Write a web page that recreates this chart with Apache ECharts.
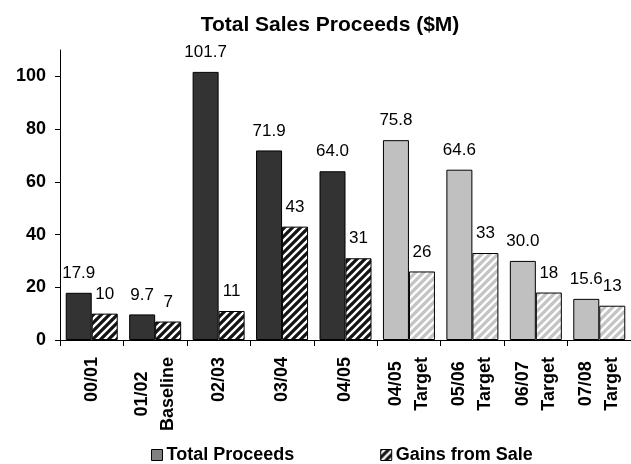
<!DOCTYPE html>
<html><head><meta charset="utf-8">
<script src="https://cdn.jsdelivr.net/npm/echarts@6/dist/echarts.min.js"></script>
<style>html,body{margin:0;padding:0;background:#fff}#c{width:631px;height:464px}</style>
</head><body><div id="c"></div>
<script>
const categories = ['00/01', '01/02\nBaseline', '02/03', '03/04', '04/05', '04/05\nTarget', '05/06\nTarget', '06/07\nTarget', '07/08\nTarget'];
const totalProceeds = [17.9, 9.7, 101.7, 71.9, 64.0, 75.8, 64.6, 30.0, 15.6];
const gainsFromSale = [10, 7, 11, 43, 31, 26, 33, 18, 13];
const isTarget = [false, false, false, false, false, true, true, true, true];
const yTicks = [0, 20, 40, 60, 80, 100];
const seriesNames = ['Total Proceeds', 'Gains from Sale'];
const titleText = 'Total Sales Proceeds ($M)';

function hatch(fg) {
  const s = 8;
  const c = document.createElement('canvas');
  c.width = s; c.height = s;
  const g = c.getContext('2d');
  g.fillStyle = '#ffffff'; g.fillRect(0, 0, s, s);
  g.strokeStyle = fg; g.lineWidth = 3.2; g.lineCap = 'square';
  g.beginPath();
  for (const k of [-s, 0, s]) { g.moveTo(k, s); g.lineTo(k + s, 0); }
  g.stroke();
  return { image: c, repeat: 'repeat' };
}
const darkHatch = hatch('#141414');
const lightHatch = hatch('#c4c4c4');

const font = 'Liberation Sans, Arial, sans-serif';
const chart = echarts.init(document.getElementById('c'));

const totalData = totalProceeds.map((v, i) => ({
  value: v,
  itemStyle: { color: isTarget[i] ? '#c0c0c0' : '#333333' }
}));
const gainData = gainsFromSale.map((v, i) => ({
  value: v,
  itemStyle: { color: isTarget[i] ? lightHatch : darkHatch }
}));

const labelStyle = { show: true, position: 'top', distance: 11, color: '#000', fontFamily: font, fontSize: 17 };

chart.setOption({
  animation: false,
  backgroundColor: '#fff',
  title: {
    text: titleText, left: 325, top: 10, textAlign: 'center',
    textStyle: { fontFamily: font, fontWeight: 'bold', fontSize: 21, color: '#000' }
  },
  legend: {
    left: 146, top: 441, itemWidth: 11, itemHeight: 11, itemGap: 86,
    icon: 'rect',
    textStyle: { fontFamily: font, fontWeight: 'bold', fontSize: 18, color: '#000', padding: [0, 0, 0, -1] },
    data: [
      { name: seriesNames[0], itemStyle: { color: '#808080', borderColor: '#000', borderWidth: 1 } },
      { name: seriesNames[1], itemStyle: { color: darkHatch, borderColor: '#000', borderWidth: 1 } }
    ]
  },
  grid: { left: 60, right: 0, top: 50, bottom: 124, containLabel: false },
  xAxis: {
    type: 'category', data: categories,
    axisLine: { lineStyle: { color: '#000', width: 1 } },
    axisTick: { show: true, alignWithLabel: false, length: 6, lineStyle: { color: '#000' } },
    axisLabel: {
      rotate: 90, margin: 17, interval: 0,
      formatter: (v) => v.split('\n').map(s => '{c|' + s + '}').join('\n'),
      rich: { c: { align: 'center', fontFamily: font, fontWeight: 'bold', fontSize: 18, color: '#000', lineHeight: 26 } }
    }
  },
  yAxis: {
    type: 'value', min: 0, max: 110, interval: 10,
    splitLine: { show: false },
    axisLine: { show: true, lineStyle: { color: '#000', width: 1 } },
    axisTick: { show: true, inside: false, length: 5, customValues: yTicks, lineStyle: { color: '#000' } },
    axisLabel: { margin: 14, customValues: yTicks, fontFamily: font, fontWeight: 'bold', fontSize: 18, color: '#000' }
  },
  series: [
    {
      name: seriesNames[0], type: 'bar', data: totalData, barWidth: 26, barGap: '0%',
      itemStyle: { borderColor: '#000', borderWidth: 1 },
      label: Object.assign({}, labelStyle, { formatter: p => Number(p.value).toFixed(1) })
    },
    {
      name: seriesNames[1], type: 'bar', data: gainData, barWidth: 26, barGap: '0%',
      itemStyle: { borderColor: '#000', borderWidth: 1 },
      label: Object.assign({}, labelStyle, { formatter: p => String(p.value) })
    }
  ]
});
</script></body></html>
